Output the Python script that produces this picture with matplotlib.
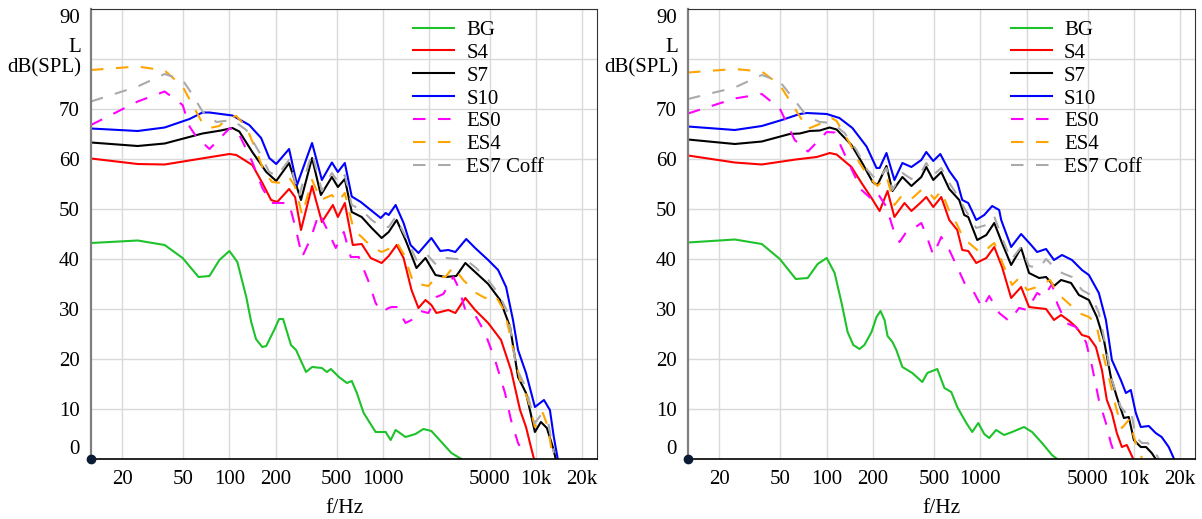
import numpy as np
import matplotlib.pyplot as plt
from matplotlib.ticker import NullLocator

# =============================================================================
# Data: (frequency in Hz, level in dB(SPL))
# =============================================================================
# ---- left panel ----
left_bg = [(12.5, 43.2), (25.2, 43.7), (37.8, 42.8), (49.5, 40.2), (62.9, 36.4), (74.1, 36.6),
           (86, 39.8), (100, 41.6), (112.6, 39.4), (128.8, 32.4), (138.7, 27.4), (149, 24.0),
           (163.6, 22.4), (173.8, 22.6), (195.8, 25.8), (211, 28.0), (224, 28.0), (252, 22.8),
           (272, 21.8), (316, 17.4), (346, 18.4), (401, 18.2), (432, 17.4), (459, 18.0),
           (518, 16.4), (584, 15.2), (628, 15.6), (678, 13.2), (751, 9.2), (899, 5.4),
           (1045, 5.4), (1127, 3.8), (1214, 5.8), (1409, 4.4), (1636, 5.0), (1844, 6.0),
           (2077, 5.6), (2415, 3.4), (2805, 1.2), (3258, 0.0)]
left_s4 = [(12.5, 60.1), (25.2, 59.0), (37.8, 58.9), (62.9, 60.0), (100, 61.0), (111, 60.8),
           (141, 58.8), (164, 55.2), (187, 51.8), (205, 51.4), (245, 54.0), (268, 52.4),
           (293, 45.8), (346, 54.6), (401, 47.4), (473, 50.8), (510, 48.4), (566, 51.2),
           (638, 42.8), (729, 43.0), (835, 40.2), (984, 39.2), (1094, 40.6), (1233, 42.8),
           (1368, 40.2), (1541, 33.8), (1710, 30.2), (1900, 31.8), (2077, 30.8), (2239, 29.2),
           (2680, 29.8), (2978, 29.2), (3459, 32.2), (4008, 29.8), (4875, 27.2), (5915, 23.8),
           (6869, 17.8), (7869, 9.8), (8606, 6.4), (9266, 2.4), (9703, 0.0)]
left_s7 = [(12.5, 63.3), (25.2, 62.6), (37.8, 63.1), (66.7, 65.1), (88, 65.7), (104.5, 66.2),
           (116, 65.5), (141, 61.4), (174, 57.4), (202, 55.6), (245, 59.2), (293, 51.8),
           (346, 60.2), (395, 52.8), (466, 56.4), (510, 54.4), (566, 56.0), (628, 49.4),
           (729, 48.4), (847, 46.2), (984, 44.2), (1094, 45.4), (1233, 47.8), (1409, 43.8),
           (1660, 38.2), (1900, 40.2), (2208, 36.8), (2562, 36.4), (3020, 36.6), (3459, 39.2),
           (4073, 37.2), (4875, 35.0), (5832, 31.8), (6775, 26.4), (7635, 16.4), (8606, 13.2),
           (9838, 5.4), (10763, 7.4), (11774, 6.2), (12875, 2.4), (13450, 0.0)]
left_s10 = [(12.5, 66.1), (25.2, 65.6), (37.8, 66.3), (54.9, 68.0), (66.7, 69.3), (74.1, 69.3),
            (104.5, 68.7), (134.7, 66.8), (161, 64.2), (182, 60.2), (202, 59.0), (245, 62.0),
            (276, 54.8), (346, 63.2), (401, 55.8), (466, 59.3), (510, 57.4), (566, 59.2),
            (628, 52.5), (719, 51.4), (835, 49.8), (970, 48.2), (1045, 49.2), (1094, 48.8),
            (1214, 50.8), (1368, 47.2), (1519, 42.8), (1710, 41.2), (2077, 44.2), (2376, 41.6),
            (2680, 41.8), (2978, 41.4), (3506, 44.0), (4008, 42.2), (4875, 39.8), (5661, 37.8),
            (6381, 34.4), (7078, 27.8), (7635, 21.8), (8606, 17.2), (9838, 10.4), (11269, 11.8),
            (12325, 9.8), (13066, 4.4), (13866, 0.0)]
left_es0 = [(12.5, 66.8), (25.2, 71.5), (37.8, 73.5), (49.5, 70.8), (54.9, 66.5), (60.7, 64.5),
            (74.1, 62.0), (100, 66.1), (111, 66.1), (141, 59.4), (164, 54.2), (187, 51.2),
            (217, 51.2), (245, 51.2), (272, 45.8), (298, 40.4), (340, 44.2), (384, 49.2),
            (426, 46.4), (494, 42.2), (557, 45.4), (619, 40.4), (698, 40.4), (811, 35.4),
            (899, 31.2), (984, 29.4), (1094, 30.2), (1143, 30.4), (1233, 30.4), (1409, 27.2),
            (1541, 27.8), (1762, 29.6), (1986, 29.2), (2239, 32.4), (2488, 33.0), (2680, 34.8),
            (2890, 36.4), (3111, 34.4), (3459, 29.8), (4073, 28.4), (4655, 25.2), (5406, 19.8),
            (6279, 13.2), (6869, 7.8), (7635, 3.2), (8470, 0.6)]
left_es4 = [(12.5, 77.8), (25.2, 78.5), (37.8, 77.7), (49.5, 74.5), (57, 71.0), (66.7, 67.2),
            (74.1, 66.2), (86, 66.6), (95.5, 68.0), (110.9, 68.6), (128.8, 66.4), (149, 61.8),
            (168.6, 57.4), (190, 55.4), (217, 55.2), (245, 56.4), (268, 54.5), (298, 48.8),
            (346, 55.8), (395, 51.8), (466, 52.8), (510, 51.4), (566, 53.2), (647, 45.8),
            (729, 44.4), (847, 42.4), (984, 41.4), (1127, 42.2), (1233, 43.4), (1368, 41.0),
            (1588, 35.2), (1986, 34.6), (2239, 36.4), (2562, 36.4), (2890, 38.4), (3356, 35.8),
            (4073, 33.2), (4655, 32.2), (5406, 32.8), (6279, 29.4), (6869, 23.8), (7869, 15.8),
            (8870, 11.8), (9838, 6.4), (11088, 9.2), (11963, 6.4), (12875, 0.2)]
left_es7 = [(12.5, 71.5), (25.2, 74.5), (37.8, 77.0), (49.5, 75.8), (57, 73.0), (66.7, 69.5),
            (82.3, 67.4), (104.5, 67.8), (128.8, 65.8), (156.3, 61.4), (181.7, 57.4),
            (204.6, 56.6), (245, 59.8), (284, 52.6), (346, 61.2), (401, 53.6), (466, 57.2),
            (518, 55.2), (566, 56.8), (628, 50.8), (729, 49.8), (847, 47.8), (984, 46.4),
            (1094, 46.4), (1214, 48.4), (1409, 44.5), (1660, 39.8), (1927, 41.0), (2239, 38.8),
            (2600, 40.2), (3020, 40.0), (3506, 39.8), (4073, 38.2), (4875, 35.8), (5661, 33.2),
            (6575, 29.2), (7411, 18.4), (8606, 14.2), (9838, 7.2), (10763, 8.8), (11963, 7.6),
            (13066, 1.2)]

# ---- right panel ----
right_bg = [(12.5, 43.3), (25.2, 43.9), (37.8, 43.0), (49.5, 40.0), (62.9, 36.0), (75.2, 36.2),
            (87.3, 39.0), (100, 40.2), (112.6, 37.2), (125, 31.2), (136.8, 25.4), (149, 22.8),
            (163.6, 22.0), (176, 22.8), (195.8, 25.4), (211, 28.4), (224, 29.6), (238, 27.8),
            (249, 24.6), (268, 23.4), (284, 21.8), (311, 18.4), (361, 17.2), (419, 15.4),
            (452, 17.2), (525, 18.0), (584, 14.2), (647, 13.4), (708, 10.4), (811, 7.2),
            (886, 5.4), (970, 7.2), (1061, 5.0), (1143, 4.2), (1268, 5.8), (1429, 4.8),
            (1611, 5.4), (1927, 6.4), (2173, 5.4), (2523, 3.2), (2930, 0.8), (3161, 0.0)]
right_s4 = [(12.5, 60.7), (25.2, 59.3), (37.8, 58.9), (62.9, 59.9), (86, 60.4), (100, 61.0),
            (104.5, 61.2), (116, 60.9), (145, 58.4), (168.6, 55.2), (195.8, 52.2), (221, 49.6),
            (249, 53.6), (276, 48.4), (321, 51.2), (356, 49.6), (413, 51.4), (445, 52.4),
            (494, 50.4), (557, 52.4), (628, 47.8), (708, 45.8), (763, 41.8), (835, 41.6),
            (941, 39.2), (1094, 40.2), (1233, 42.4), (1386, 38.4), (1588, 32.2), (1844, 34.4),
            (2077, 30.4), (2344, 30.2), (2680, 30.0), (3020, 27.8), (3356, 28.8), (3800, 27.6),
            (4196, 26.4), (4591, 24.8), (5093, 24.4), (5661, 22.4), (6194, 17.8), (6666, 11.8),
            (7192, 9.2), (7743, 5.2), (8354, 2.4), (8994, 2.8), (9838, 0.2)]
right_s7 = [(12.5, 63.9), (25.2, 63.0), (37.8, 63.5), (57.4, 65.0), (66.7, 65.1), (77.5, 65.6),
            (90, 65.7), (104.5, 66.3), (116, 65.9), (145, 62.8), (171, 59.1), (199, 55.4),
            (214, 54.8), (245, 58.6), (268, 53.6), (311, 56.4), (356, 54.6), (413, 56.4),
            (445, 58.4), (494, 55.8), (557, 57.4), (628, 54.0), (729, 51.8), (786, 48.8),
            (835, 48.4), (955, 43.8), (1094, 44.8), (1233, 47.2), (1386, 43.2), (1588, 38.8),
            (1844, 42.2), (2077, 37.2), (2415, 36.2), (2680, 36.4), (3020, 34.6), (3356, 35.8),
            (3899, 35.2), (4386, 32.8), (5093, 31.8), (5740, 28.4), (6381, 23.8), (7078, 16.4),
            (7743, 12.4), (8606, 8.2), (9266, 8.4), (9998, 3.8), (11088, 2.4), (12000, 2.4),
            (13066, 1.2), (13866, 0.0)]
right_s10 = [(12.5, 66.5), (25.2, 65.8), (37.8, 66.6), (51, 67.8), (66.7, 69.0), (74.1, 69.2),
             (100, 69.0), (121, 68.2), (147, 66.2), (181.7, 62.5), (211, 58.2), (221, 58.2),
             (245, 61.2), (276, 55.8), (311, 59.2), (356, 58.4), (413, 59.8), (445, 61.4),
             (494, 59.6), (549, 61.0), (628, 57.6), (708, 55.4), (763, 51.8), (835, 51.2),
             (941, 47.8), (1061, 48.8), (1195, 50.6), (1327, 49.8), (1368, 47.8), (1588, 42.4),
             (1844, 45.0), (2142, 42.8), (2344, 41.4), (2680, 42.0), (3020, 39.8), (3404, 40.8),
             (3953, 39.8), (4591, 37.8), (5093, 36.8), (5915, 33.2), (6575, 27.8), (7192, 19.8),
             (8221, 15.8), (8870, 13.2), (9548, 13.8), (10296, 9.2), (11088, 6.4), (12500, 6.6),
             (13866, 5.2), (15160, 4.4), (16860, 2.4), (18150, 0.2)]
right_es0 = [(12.5, 69.1), (25.2, 72.1), (37.8, 73.0), (49.5, 70.1), (61.9, 63.8), (75.5, 61.5),
             (100, 65.4), (112.6, 65.3), (140.9, 58.8), (168.6, 53.8), (195.8, 52.0), (214, 53.2),
             (245, 50.4), (276, 45.2), (298, 43.4), (330, 45.4), (372, 46.2), (413, 47.2),
             (445, 44.8), (494, 40.8), (557, 44.4), (628, 41.8), (708, 38.4), (811, 34.4),
             (914, 33.2), (1030, 30.2), (1143, 32.6), (1327, 29.2), (1541, 27.6), (1790, 30.2),
             (2018, 29.8), (2344, 33.2), (2600, 32.4), (2930, 35.0), (3161, 31.2), (3613, 27.2),
             (4196, 26.4), (4875, 23.4), (5333, 18.6), (5915, 11.8), (6575, 7.2), (7078, 3.2),
             (7635, 0.2)]
right_es4 = [(12.5, 77.3), (25.2, 78.0), (37.8, 77.5), (49.5, 74.8), (62.9, 69.8), (75, 66.0),
             (90, 67.0), (107.6, 68.2), (116, 67.6), (140.9, 63.2), (163.6, 59.2), (190, 56.2),
             (214, 54.6), (245, 56.6), (276, 50.8), (311, 52.8), (356, 52.0), (413, 53.8),
             (445, 54.0), (502, 52.0), (557, 53.6), (628, 49.6), (708, 46.8), (786, 43.8),
             (830, 43.4), (955, 41.8), (1061, 41.2), (1143, 42.4), (1233, 43.2), (1429, 38.4),
             (1611, 34.8), (1790, 36.2), (2018, 33.8), (2344, 34.4), (2600, 35.2), (2850, 35.8),
             (3161, 33.2), (3672, 31.4), (4386, 29.2), (5093, 28.4), (5661, 27.2), (6194, 21.8),
             (6869, 16.4), (7635, 10.4), (8354, 6.2), (9266, 7.8), (10296, 3.2), (11269, 0.2)]
right_es7 = [(12.5, 72.0), (25.2, 74.3), (37.8, 76.8), (49.5, 75.5), (63.8, 71.2), (74.1, 68.6),
             (90, 67.4), (109, 67.2), (130.7, 65.2), (156.3, 61.8), (184, 57.8), (214, 55.6),
             (245, 58.2), (268, 53.8), (311, 57.2), (356, 56.0), (413, 57.4), (445, 59.2),
             (494, 56.8), (557, 58.2), (628, 55.2), (708, 52.8), (786, 50.2), (941, 46.2),
             (1094, 46.8), (1233, 48.5), (1386, 44.2), (1588, 39.8), (1844, 42.4), (2077, 38.6),
             (2415, 38.2), (2680, 40.0), (3020, 38.4), (3404, 37.2), (3953, 36.4), (4591, 33.8),
             (5248, 32.8), (5915, 29.2), (6575, 22.4), (7192, 15.8), (8221, 10.4), (8870, 9.2),
             (9548, 9.8), (10296, 4.4), (11269, 3.2), (12300, 3.2), (13866, 1.2), (14513, 0.0)]

labels = ['BG', 'S4', 'S7', 'S10', 'ES0', 'ES4', 'ES7 Coff']
colors = ['#1ec22a', '#ff0000', '#000000', '#0000ff', '#ff00ff', '#ffa500', '#aaaaaa']
dashed = [False, False, False, False, True, True, True]

xticks = [20, 50, 100, 200, 500, 1000, 2000, 5000, 10000, 20000]
xticklabels = ['20', '50', '100', '200', '500', '1000', '', '5000', '10k', '20k']
yticks = [0, 10, 20, 30, 40, 50, 60, 70, 80, 90]
yticklabels = ['0', '10', '20', '30', '40', '50', '60', '70', '', '90']
ylabel_text = 'L\ndB(SPL)'

plt.rcParams['font.family'] = ['Liberation Serif', 'DejaVu Serif']
FS = 15

fig = plt.figure(figsize=(12.02, 5.19), dpi=100)
ax_left = fig.add_axes([91 / 1202, 60 / 519, 506 / 1202, 450 / 519])
ax_right = fig.add_axes([688 / 1202, 60 / 519, 507 / 1202, 450 / 519])


def draw_panel(ax, series):
    for data, lab, col, dash in zip(series, labels, colors, dashed):
        f, db = np.array(data).T
        line, = ax.plot(f, db, color=col, lw=1.5, label=lab, solid_joinstyle='round')
        if dash:
            line.set_dashes([6, 6])
    ax.set_xscale('log')
    ax.set_xlim(12.5, 25000)
    ax.set_ylim(0, 90)
    ax.set_xticks(xticks, xticklabels)
    ax.xaxis.set_minor_locator(NullLocator())
    ax.set_yticks(yticks, yticklabels)
    ax.tick_params(length=0, labelsize=FS)
    ax.tick_params(axis='x', pad=8)
    ax.tick_params(axis='y', pad=8)
    # first and last y labels are pushed inside the axis range
    yt = ax.yaxis.get_major_ticks()
    yt[0].label1.set_va('bottom')
    yt[-1].label1.set_va('top')
    # axis name sits in place of the 80 tick label
    ax.text(-0.019, 80.2, ylabel_text, transform=ax.get_yaxis_transform(),
            ha='right', va='center', multialignment='right', fontsize=FS, linespacing=1.12)
    ax.grid(True, color='#d9d9d9', lw=1.0)
    ax.set_axisbelow(True)
    ax.spines['left'].set_color('#7f7f7f')
    ax.spines['left'].set_linewidth(1.6)
    ax.spines['bottom'].set_color('black')
    ax.spines['bottom'].set_linewidth(1.2)
    for s in ['top', 'right']:
        ax.spines[s].set_color('#333333')
        ax.spines[s].set_linewidth(0.8)
    ax.plot(12.5, 0, 'o', color='#0b1b36', ms=6, clip_on=False, zorder=10)
    ax.set_xlabel('f/Hz', fontsize=FS + 0.5, labelpad=7)
    ax.legend(loc='upper left', bbox_to_anchor=(0.637, 0.975), frameon=False,
              handlelength=1.97, handletextpad=0.58, labelspacing=0.16,
              borderpad=0, borderaxespad=0, fontsize=FS)


draw_panel(ax_left, [left_bg, left_s4, left_s7, left_s10, left_es0, left_es4, left_es7])
draw_panel(ax_right, [right_bg, right_s4, right_s7, right_s10, right_es0, right_es4, right_es7])

fig.savefig('out.png', dpi=100)
